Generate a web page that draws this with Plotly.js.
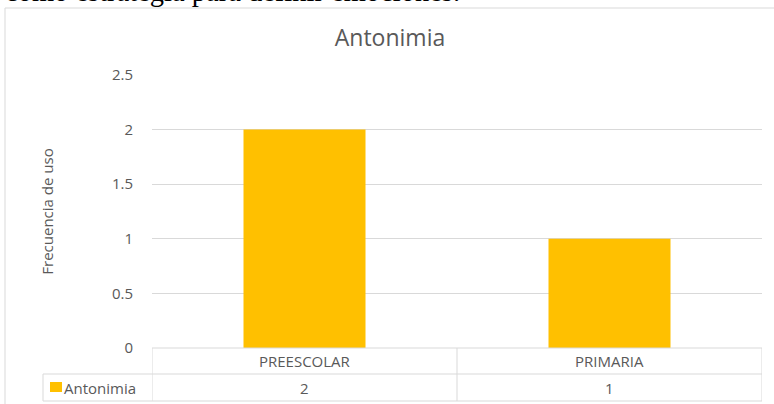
<!DOCTYPE html>
<html>
<head>
<meta charset="utf-8">
<script src="https://cdn.plot.ly/plotly-3.0.1.min.js"></script>
<style>html,body{margin:0;padding:0;background:#fff;}#chart{width:774px;height:404px;}</style>
</head>
<body>
<div id="chart"></div>
<script>
const categories = ["PREESCOLAR", "PRIMARIA"];
const seriesName = "Antonimia";
const values = [2, 1];
const yTicks = [0, 0.5, 1, 1.5, 2, 2.5];
const yTickLabels = ["0", "0.5", "1", "1.5", "2", "2.5"];
const chartTitle = "Antonimia";
const yTitle = "Frecuencia de uso";
const headerText = "como estrategia para definir emociones.";

const gray = "#595959";
const lineC = "#d9d9d9";
const font = "'Open Sans', sans-serif";
const fs = 15;

const W = 774, H = 404;
const mL = 152, mR = 12, mT = 75, mB = 56;
const pw = W - mL - mR, ph = H - mT - mB;
const px = v => (v - mL) / pw;        // pixel x -> paper x
const py = v => (H - mB - v) / ph;    // pixel y -> paper y

const n = categories.length;
const shapes = [];
const rowTop = py(348), rowMid = py(374), rowBot = py(401);
// outer frame
shapes.push({type:'rect', xref:'paper', yref:'paper', x0:px(5), x1:px(790), y0:py(420), y1:py(8), line:{color:lineC,width:1}, layer:'below'});
// table lines
shapes.push({type:'line', xref:'x', yref:'paper', x0:-0.5, x1:n-0.5, y0:rowTop, y1:rowTop, line:{color:lineC,width:1}});
shapes.push({type:'line', xref:'paper', yref:'paper', x0:px(43), x1:1, y0:rowMid, y1:rowMid, line:{color:lineC,width:1}});
shapes.push({type:'line', xref:'paper', yref:'paper', x0:px(43), x1:1, y0:rowBot, y1:rowBot, line:{color:lineC,width:1}});
shapes.push({type:'line', xref:'paper', yref:'paper', x0:px(43), x1:px(43), y0:rowMid, y1:rowBot, line:{color:lineC,width:1}});
for (let i = 0; i <= n; i++) {
  shapes.push({type:'line', xref:'x', yref:'paper', x0:i-0.5, x1:i-0.5, y0:rowTop, y1:rowBot, line:{color:lineC,width:1}});
}
// legend key square
shapes.push({type:'rect', xref:'paper', yref:'paper', x0:px(50), x1:px(62), y0:py(392), y1:py(382), fillcolor:'#FFC000', line:{width:0}});

const annotations = [];
categories.forEach((c, i) => {
  annotations.push({x:i, xref:'x', y:(rowTop+rowMid)/2, yref:'paper', text:c, showarrow:false, font:{family:font,size:fs,color:gray}, xanchor:'center', yanchor:'middle'});
  annotations.push({x:i, xref:'x', y:(rowMid+rowBot)/2, yref:'paper', text:String(values[i]), showarrow:false, font:{family:font,size:fs,color:gray}, xanchor:'center', yanchor:'middle'});
});
annotations.push({x:px(62), xref:'paper', y:(rowMid+rowBot)/2, yref:'paper', text:seriesName, showarrow:false, font:{family:font,size:fs,color:gray}, xanchor:'left', yanchor:'middle'});
annotations.push({x:px(462), xref:'paper', y:py(9), yref:'paper', text:headerText, showarrow:false, font:{family:"'Liberation Serif', serif",size:28.5,color:'#000'}, xanchor:'right', yanchor:'bottom'});

const data = [{
  type:'bar', x:categories, y:values, name:seriesName,
  marker:{color:'#FFC000'}, hoverinfo:'none'
}];

const layout = {
  width:W, height:H,
  margin:{l:mL, r:mR, t:mT, b:mB, pad:0},
  paper_bgcolor:'#fff', plot_bgcolor:'#fff',
  showlegend:false,
  bargap:0.6,
  title:{text:chartTitle, x:390/W, xanchor:'center', y:1-38/H, yanchor:'middle', font:{family:font,size:23,color:gray}},
  xaxis:{type:'category', range:[-0.5, n-0.5], showticklabels:false, showgrid:false, zeroline:false, showline:false, ticks:''},
  yaxis:{range:[0,2.5], tickvals:yTicks, ticktext:yTickLabels, showgrid:true, gridcolor:lineC, gridwidth:1, zeroline:false, showline:false, ticks:'', ticklabelstandoff:18,
    tickfont:{family:font,size:fs,color:gray},
    title:{text:yTitle, standoff:54, font:{family:font,size:fs,color:gray}}},
  shapes:shapes, annotations:annotations
};

Plotly.newPlot('chart', data, layout, {displayModeBar:false, staticPlot:true});
</script>
</body>
</html>
